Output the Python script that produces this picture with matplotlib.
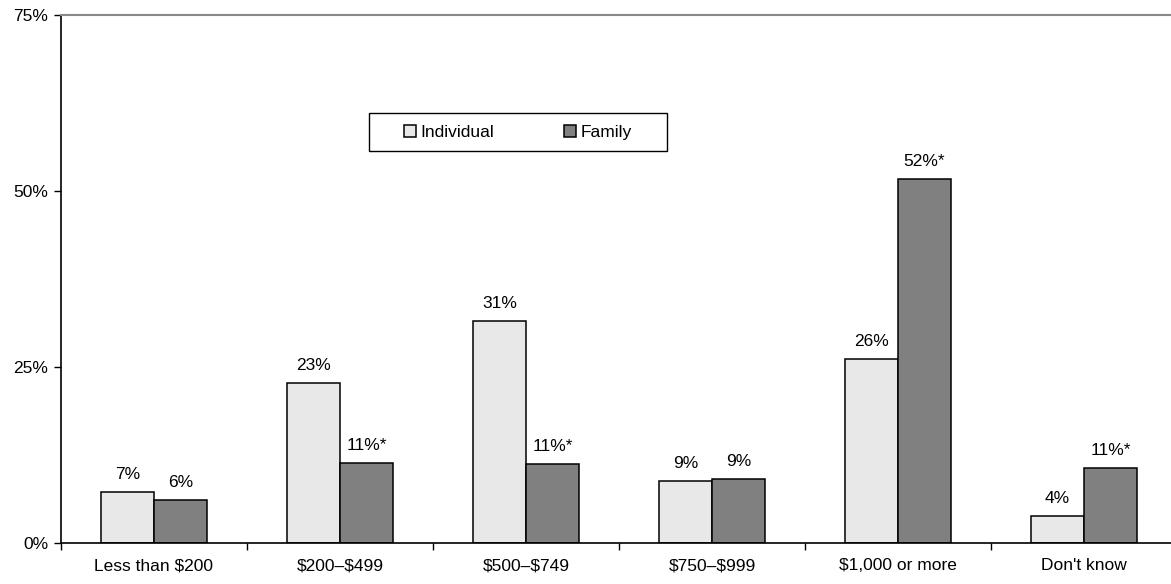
import numpy as np
import matplotlib.pyplot as plt
from matplotlib.patches import Rectangle

plt.rcParams['font.family'] = ['Liberation Sans', 'DejaVu Sans']

# Data
categories = ['Less than \\$200', '\\$200\u2013\\$499', '\\$500\u2013\\$749', '\\$750\u2013\\$999',
              '\\$1,000 or more', "Don't know"]
individual = [7.3, 22.7, 31.5, 8.8, 26.1, 3.8]
family = [6.1, 11.4, 11.2, 9.1, 51.7, 10.7]
individual_labels = ['7%', '23%', '31%', '9%', '26%', '4%']
family_labels = ['6%', '11%*', '11%*', '9%', '52%*', '11%*']

fig = plt.figure(figsize=(11.71, 5.84), dpi=100)
ax = fig.add_axes([61 / 1171, 41 / 584, 1116 / 1171, 528 / 584])

fs = 12.5
x = np.arange(len(categories))
w = 0.285
b1 = ax.bar(x - w / 2, individual, w, color='#e8e8e8', edgecolor='black', linewidth=1.1, label='Individual')
b2 = ax.bar(x + w / 2, family, w, color='#808080', edgecolor='black', linewidth=1.1, label='Family')

for rect, lab in zip(b1, individual_labels):
    ax.text(rect.get_x() + rect.get_width() / 2, rect.get_height() + 1.4, lab,
            ha='center', va='bottom', fontsize=fs)
for rect, lab in zip(b2, family_labels):
    ax.text(rect.get_x() + rect.get_width() / 2, rect.get_height() + 1.4, lab,
            ha='center', va='bottom', fontsize=fs)

ax.set_xlim(-0.5, len(categories) - 0.5)
ax.set_ylim(0, 75)
ax.set_yticks([0, 25, 50, 75])
ax.set_yticklabels(['0%', '25%', '50%', '75%'], fontsize=fs)

# category labels centered, ticks on the boundaries
ax.set_xticks(x)
ax.set_xticklabels(categories, fontsize=fs)
ax.tick_params(axis='x', length=0, pad=11)
ax.set_xticks(np.arange(len(categories) + 1) - 0.5, minor=True)
ax.tick_params(axis='x', which='minor', length=5, width=1, direction='out')
ax.tick_params(axis='y', length=5, width=1, direction='out', pad=4)

ax.spines['right'].set_visible(False)
ax.spines['top'].set_color('#888888')
ax.spines['top'].set_linewidth(1.5)
ax.spines['left'].set_linewidth(1.2)
ax.spines['bottom'].set_linewidth(1.2)

# legend: frameless entries inside a hand-drawn box
ax.add_patch(Rectangle((0.276, 0.742), 0.267, 0.072, transform=ax.transAxes,
                       facecolor='white', edgecolor='black', linewidth=1.0, zorder=4))
leg = ax.legend(loc='center', bbox_to_anchor=(0.4095, 0.778), ncol=2, frameon=False,
                fontsize=fs, handlelength=0.7, handleheight=0.7, handletextpad=0.25,
                columnspacing=4.0, borderpad=0, borderaxespad=0)
leg.set_zorder(5)

plt.savefig('out.png', dpi=100)
